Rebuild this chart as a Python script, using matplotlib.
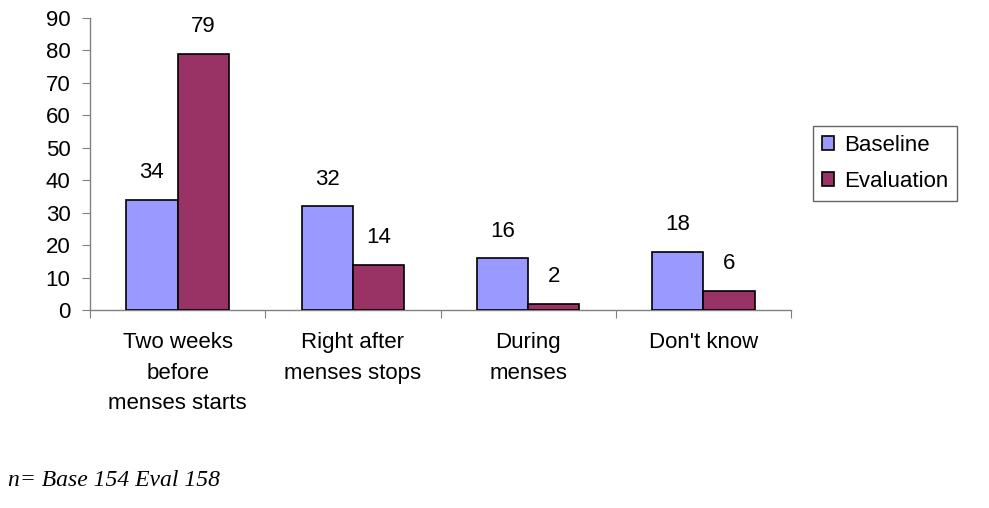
import matplotlib
matplotlib.use("Agg")
import matplotlib.pyplot as plt
import numpy as np

categories = ["Two weeks\nbefore\nmenses starts", "Right after\nmenses stops",
              "During\nmenses", "Don't know"]
baseline = [34, 32, 16, 18]
evaluation = [79, 14, 2, 6]
series_names = ["Baseline", "Evaluation"]
yticks = [0, 10, 20, 30, 40, 50, 60, 70, 80, 90]
footnote = "n= Base 154 Eval 158"

plt.rcParams["font.family"] = ["Liberation Sans", "DejaVu Sans"]
FS = 16

fig = plt.figure(figsize=(9.89, 5.08), dpi=100)
ax = fig.add_axes([90 / 989, 1 - 310 / 508, (791 - 90) / 989, (310 - 18) / 508])

x = np.arange(len(categories))
w = 0.293
b1 = ax.bar(x - w / 2, baseline, w, color="#9999FF", edgecolor="black", linewidth=1.2,
            label=series_names[0], zorder=3)
b2 = ax.bar(x + w / 2, evaluation, w, color="#993366", edgecolor="black", linewidth=1.2,
            label=series_names[1], zorder=3)

for bars, vals in ((b1, baseline), (b2, evaluation)):
    for rect, v in zip(bars, vals):
        ax.annotate(str(v), (rect.get_x() + rect.get_width() / 2, v),
                    xytext=(0, 19.5), textcoords="offset points",
                    ha="center", va="center", fontsize=FS)

ax.set_xlim(-0.5, len(categories) - 0.5)
ax.set_ylim(0, 90)
ax.set_yticks(yticks)
ax.tick_params(axis="y", labelsize=FS, length=6, color="#808080", pad=8)

# Category boundaries carry the tick marks; labels sit on the minor ticks
ax.set_xticks(np.arange(-0.5, len(categories), 1.0))
ax.set_xticklabels([])
ax.tick_params(axis="x", which="major", length=6, color="#808080")
ax.set_xticks(x, minor=True)
ax.set_xticklabels(categories, minor=True, fontsize=FS, linespacing=1.58)
ax.tick_params(axis="x", which="minor", length=0, pad=16)

for s in ("top", "right"):
    ax.spines[s].set_visible(False)
for s in ("left", "bottom"):
    ax.spines[s].set_color("#808080")
    ax.spines[s].set_linewidth(1.0)

leg = fig.legend(loc="upper left", bbox_to_anchor=(813 / 989, 1 - 126 / 508),
                 fontsize=FS, frameon=True, fancybox=False, edgecolor="#404040",
                 handlelength=0.55, handleheight=0.55, handletextpad=0.45,
                 borderpad=0.4, labelspacing=0.68, borderaxespad=0)
leg.get_frame().set_linewidth(1.0)

fig.text(8 / 989, 1 - 481 / 508, footnote, fontsize=17, style="italic",
         family=["Liberation Serif", "DejaVu Serif"], va="center", ha="left")

fig.savefig("out.png", dpi=100, facecolor="white")
